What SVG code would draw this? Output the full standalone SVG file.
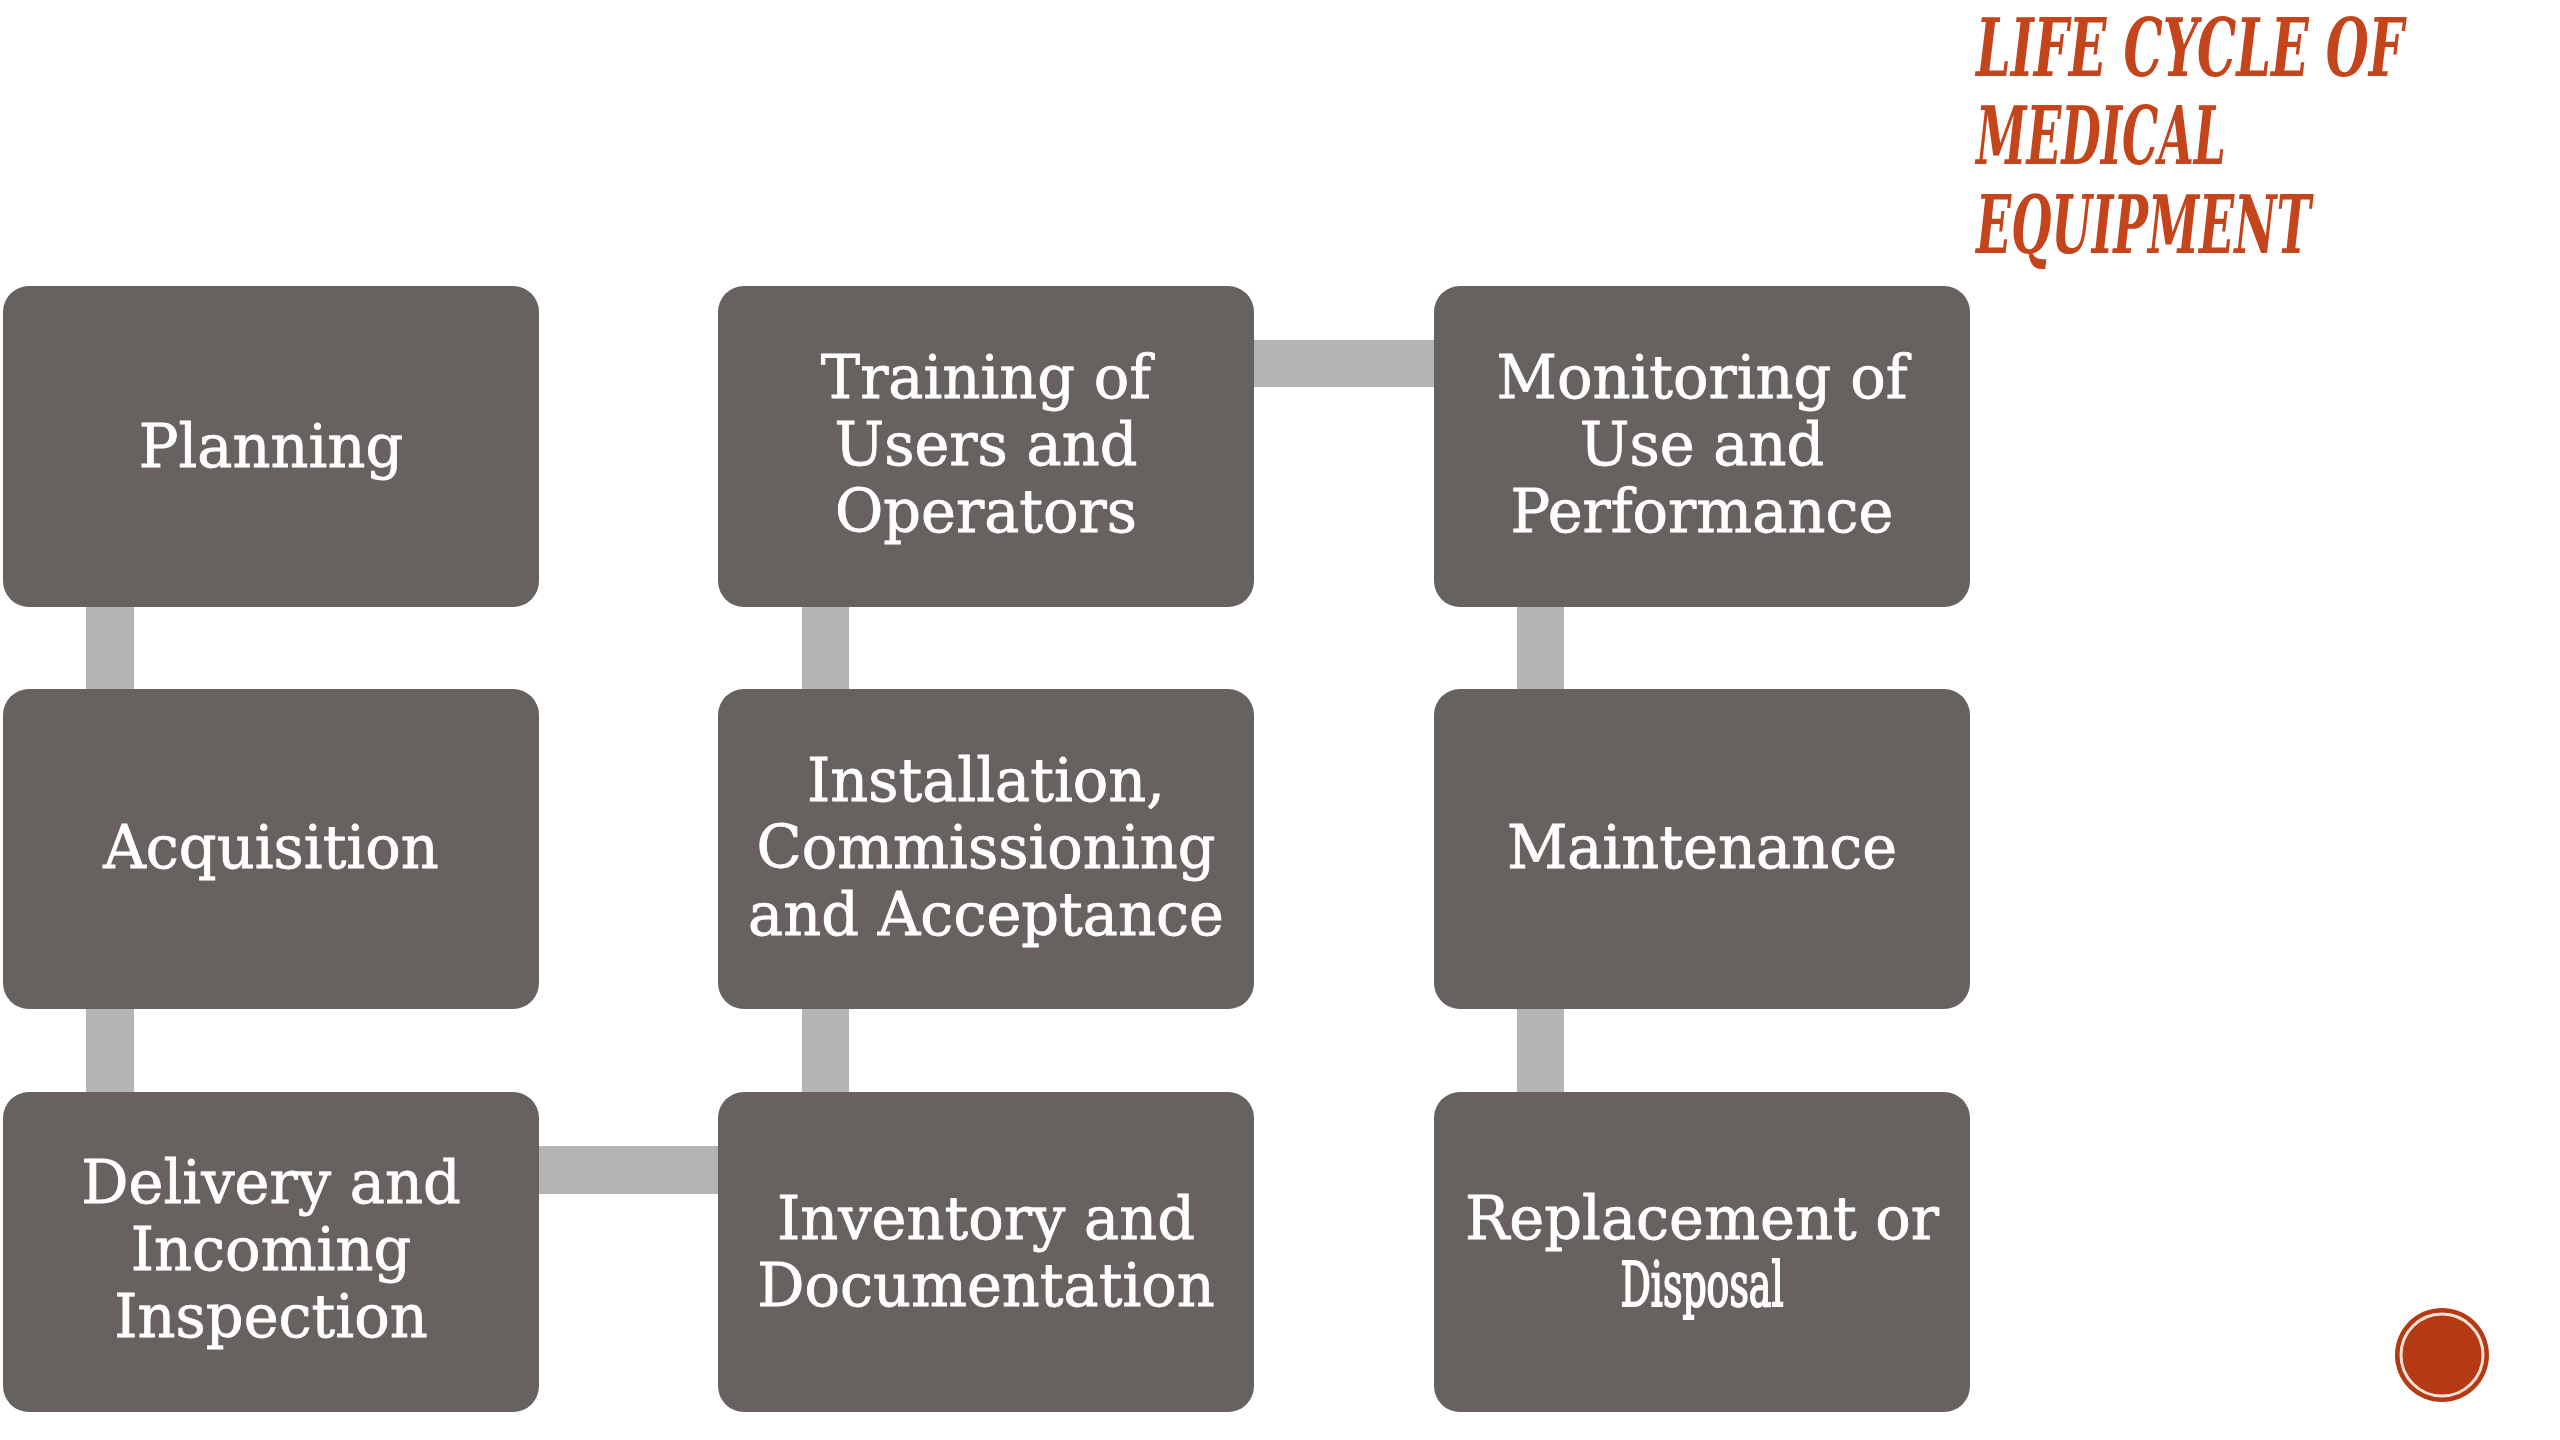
<svg xmlns="http://www.w3.org/2000/svg" width="2560" height="1440" viewBox="0 0 2560 1440">
<style>
.box{fill:#676160;}
.conn{fill:#b4b4b4;}
.lbl{font-family:"DejaVu Serif","Liberation Serif",serif;font-size:59px;fill:#ffffff;stroke:#ffffff;stroke-width:0.8px;text-anchor:middle;}
.alt{font-family:"DejaVu Serif Condensed","DejaVu Serif",serif;font-size:62px;fill:#ffffff;stroke:#ffffff;stroke-width:2px;text-anchor:middle;}
.title{font-family:"DejaVu Serif Condensed","DejaVu Serif",serif;font-size:80px;font-weight:bold;font-style:italic;fill:#c4441c;}
</style>
<rect width="2560" height="1440" fill="#ffffff"/>
<g id="connectors">
<rect class="conn" x="86" y="605" width="48" height="86"/>
<rect class="conn" x="86" y="1007" width="48" height="87"/>
<rect class="conn" x="537" y="1146" width="183" height="48"/>
<rect class="conn" x="802" y="1007" width="47" height="87"/>
<rect class="conn" x="802" y="605" width="47" height="86"/>
<rect class="conn" x="1252" y="340" width="184" height="47"/>
<rect class="conn" x="1517" y="605" width="47" height="86"/>
<rect class="conn" x="1517" y="1007" width="47" height="87"/>
</g>
<g id="planning">
<rect class="box" x="3" y="286" width="536" height="321" rx="26"/>
<text class="lbl" x="271" y="467">Planning</text>
</g>
<g id="acquisition">
<rect class="box" x="3" y="689" width="536" height="320" rx="26"/>
<text class="lbl" x="271" y="868">Acquisition</text>
</g>
<g id="delivery">
<rect class="box" x="3" y="1092" width="536" height="320" rx="26"/>
<text class="lbl" x="271" y="1203">Delivery and</text>
<text class="lbl" x="271" y="1270">Incoming</text>
<text class="lbl" x="271" y="1337">Inspection</text>
</g>
<g id="training">
<rect class="box" x="718" y="286" width="536" height="321" rx="26"/>
<text class="lbl" x="986" y="398">Training of</text>
<text class="lbl" x="986" y="465">Users and</text>
<text class="lbl" x="986" y="532">Operators</text>
</g>
<g id="installation">
<rect class="box" x="718" y="689" width="536" height="320" rx="26"/>
<text class="lbl" x="986" y="801">Installation,</text>
<text class="lbl" x="986" y="868">Commissioning</text>
<text class="lbl" x="986" y="935">and Acceptance</text>
</g>
<g id="inventory">
<rect class="box" x="718" y="1092" width="536" height="320" rx="26"/>
<text class="lbl" x="986" y="1239">Inventory and</text>
<text class="lbl" x="986" y="1306">Documentation</text>
</g>
<g id="monitoring">
<rect class="box" x="1434" y="286" width="536" height="321" rx="26"/>
<text class="lbl" x="1702" y="398">Monitoring of</text>
<text class="lbl" x="1702" y="465">Use and</text>
<text class="lbl" x="1702" y="532">Performance</text>
</g>
<g id="maintenance">
<rect class="box" x="1434" y="689" width="536" height="320" rx="26"/>
<text class="lbl" x="1702" y="868">Maintenance</text>
</g>
<g id="replacement">
<rect class="box" x="1434" y="1092" width="536" height="320" rx="26"/>
<text class="lbl" x="1702" y="1239">Replacement or</text>
<text class="alt" x="1702" y="1306" textLength="163" lengthAdjust="spacingAndGlyphs">Disposal</text>
</g>
<g id="title">
<text class="title" transform="translate(1976,76) scale(0.72,1)" x="0" y="0" textLength="594" lengthAdjust="spacingAndGlyphs">LIFE CYCLE OF</text>
<text class="title" transform="translate(1976,164) scale(0.72,1)" x="0" y="0" textLength="347" lengthAdjust="spacingAndGlyphs">MEDICAL</text>
<text class="title" transform="translate(1976,253) scale(0.72,1)" x="0" y="0" textLength="465" lengthAdjust="spacingAndGlyphs">EQUIPMENT</text>
</g>
<g id="badge">
<circle cx="2442" cy="1355" r="47" fill="#b53913"/>
<circle cx="2442" cy="1355" r="41" fill="none" stroke="#f4e2d8" stroke-width="3"/>
</g>
</svg>
